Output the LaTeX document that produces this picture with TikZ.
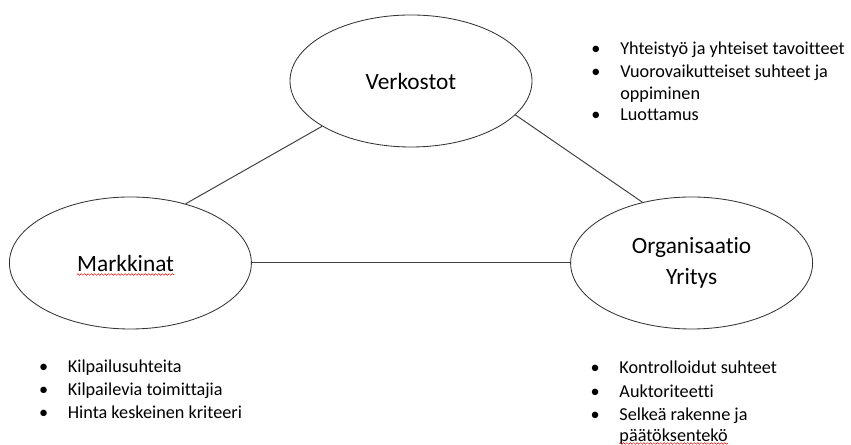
\documentclass[tikz,border=0pt]{standalone}
\usepackage{fontspec}
\setmainfont[Ligatures={NoCommon}]{Carlito}
\usetikzlibrary{shapes.geometric, decorations.pathmorphing}

\newcommand{\bigfont}{\fontsize{16.6}{22}\selectfont}
\newcommand{\bull}{\makebox[0.72cm][l]{\textbullet}}

\begin{document}
\begin{tikzpicture}
    \tikzset{
        blob/.style={ellipse, draw=black!80, line width=0.6pt, minimum width=6.05cm, minimum height=3.3cm, inner sep=0pt, align=center, font=\bigfont},
        link/.style={draw=black!75, line width=0.7pt},
        listline/.style={anchor=base west, inner sep=0pt, font=\fontsize{12.95}{16}\selectfont},
        spell/.style={draw=red!85!black, line width=0.35pt, decorate, decoration={snake, segment length=2.4pt, amplitude=0.6pt}}
    }
    \useasboundingbox (0,0) rectangle (21.275,11.125);

    \node[blob] at (10.275, 9.1) (vk) {Verkostot};
    \node[blob, label={[name=mkword, font=\bigfont, inner sep=0pt, xshift=-0.12cm]center:Markkinat}] at (3.26, 4.55) (mk) {};
    \node[blob] at (17.29, 4.55) (org) {Organisaatio\\Yritys};

    \draw[link] (mk.47) -- (vk.207);
    \draw[link] (vk.342) -- (org.129);
    \draw[link] (mk) -- (org);

    % verkostot
    \node[listline] (v1) at (14.78, 9.75) {\bull Yhteistyö ja yhteiset tavoitteet};
    \node[listline] (v2) at (14.78, 9.19) {\bull Vuorovaikutteiset suhteet ja};
    \node[listline] (v3) at (15.5, 8.625) {oppiminen};
    \node[listline] (v4) at (14.78, 8.11) {\bull Luottamus};

    % markkinat
    \node[listline] (m1) at (0.97, 1.82) {\bull Kilpailusuhteita};
    \node[listline] (m2) at (0.97, 1.225) {\bull Kilpailevia toimittajia};
    \node[listline] (m3) at (0.97, 0.66) {\bull Hinta keskeinen kriteeri};

    % organisaatio
    \node[listline] (o1) at (14.76, 1.79) {\bull Kontrolloidut suhteet};
    \node[listline] (o2) at (14.76, 1.19) {\bull Auktoriteetti};
    \node[listline] (o3) at (14.76, 0.6) {\bull Selkeä rakenne ja};
    \node[listline] (o4) at (15.48, 0.08) {päätöksentekö};

    \draw[spell] ([yshift=-2.5pt]mkword.base west) -- ([yshift=-2.5pt]mkword.base east);
    \draw[spell] ([yshift=-1.2pt]o4.base west) -- ([yshift=-1.2pt]o4.base east);
\end{tikzpicture}
\end{document}
